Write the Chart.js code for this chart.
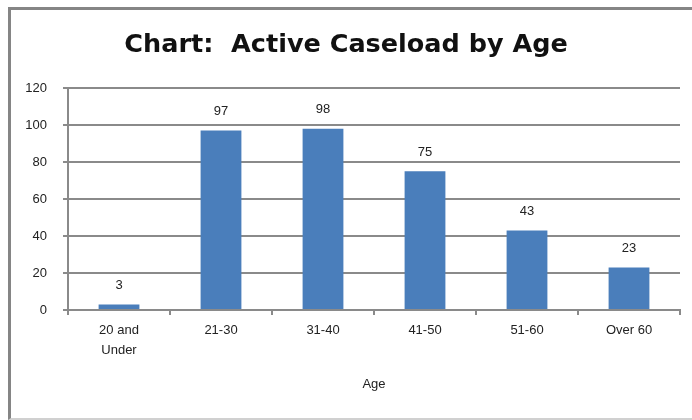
<!DOCTYPE html>
<html>
<head>
<meta charset="utf-8">
<script src="https://cdn.jsdelivr.net/npm/chart.js@4/dist/chart.umd.min.js"></script>
<style>
  html, body { margin: 0; padding: 0; background: #fff; }
  #frame {
    position: absolute; left: 8px; top: 7px; width: 720px; height: 408px;
    border-left: 3px solid #858585; border-top: 3px solid #858585;
    border-bottom: 2px solid #d0d0d0;
  }
  #wrap { position: absolute; left: 0; top: 0; width: 692px; height: 420px; }
</style>
</head>
<body>
<div id="frame"></div>
<div id="wrap"><canvas id="caseChart"></canvas></div>
<script>
// Active caseload counts per age group
const ageGroups = [['20 and', 'Under'], '21-30', '31-40', '41-50', '51-60', 'Over 60'];
const caseCounts = [3, 97, 98, 75, 43, 23];
const yTicks = [0, 20, 40, 60, 80, 100, 120];

const labelFont = "'Liberation Sans', Arial, sans-serif";
const titleFont = "'DejaVu Sans', Verdana, sans-serif";

// write each count just above its bar
const valueLabels = {
    id: 'valueLabels',
    afterDatasetsDraw(chart) {
        const ctx = chart.ctx;
        const meta = chart.getDatasetMeta(0);
        ctx.save();
        ctx.font = '13px ' + labelFont;
        ctx.fillStyle = '#222';
        ctx.textAlign = 'center';
        ctx.textBaseline = 'middle';
        meta.data.forEach((bar, i) => {
            ctx.fillText(String(caseCounts[i]), bar.x, bar.y - 19);
        });
        ctx.restore();
    }
};

var ctx = document.getElementById('caseChart').getContext('2d');
new Chart(ctx, {
    type: 'bar',
    data: {
        labels: ageGroups,
        datasets: [{
            data: caseCounts,
            backgroundColor: '#4a7ebb',
            barPercentage: 0.4,
            categoryPercentage: 1.0
        }]
    },
    options: {
        responsive: true,
        maintainAspectRatio: false,
        animation: false,
        layout: { padding: { left: 12, right: 12, top: 20, bottom: 10 } },
        plugins: {
            legend: { display: false },
            tooltip: { enabled: false },
            title: {
                display: true,
                text: 'Chart:  Active Caseload by Age',
                color: '#111',
                font: { family: titleFont, size: 25.5, weight: 'bold', lineHeight: 1.2 },
                padding: { top: 10, bottom: 27.4 }
            }
        },
        scales: {
            x: {
                afterFit: s => { s.height = 100; },
                grid: {
                    offset: true,
                    drawOnChartArea: false,
                    drawTicks: true,
                    tickLength: 5,
                    color: '#8a8a8a',
                    lineWidth: 2
                },
                border: { color: '#8a8a8a', width: 2 },
                ticks: {
                    color: '#222',
                    padding: 5,
                    maxRotation: 0,
                    font: { family: labelFont, size: 13, lineHeight: 1.55 }
                },
                title: {
                    display: true,
                    text: 'Age',
                    color: '#222',
                    font: { family: labelFont, size: 13 },
                    padding: { top: 0, bottom: 18 }
                }
            },
            y: {
                min: 0,
                max: 120,
                afterFit: s => { s.width = 56; },
                afterBuildTicks: s => { s.ticks = yTicks.map(v => ({ value: v })); },
                grid: {
                    color: '#8a8a8a',
                    lineWidth: 2,
                    tickLength: 5
                },
                border: { color: '#8a8a8a', width: 2 },
                ticks: {
                    color: '#222',
                    padding: 16,
                    font: { family: labelFont, size: 13 }
                }
            }
        }
    },
    plugins: [valueLabels]
});
</script>
</body>
</html>
